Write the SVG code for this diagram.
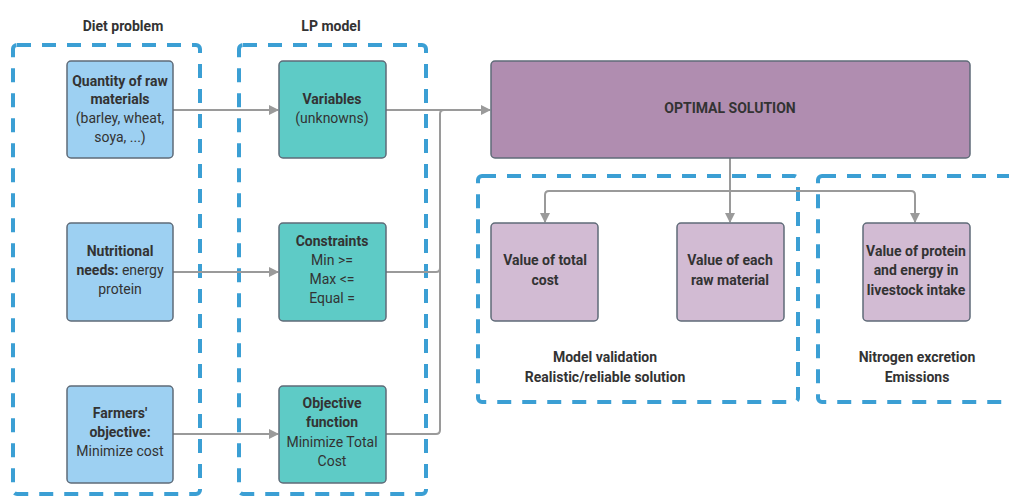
<svg xmlns="http://www.w3.org/2000/svg" width="1009" height="497" viewBox="0 0 1009 497">
<style>
text{font-family:Roboto,"Liberation Sans",sans-serif;font-size:14px;fill:#333;text-anchor:middle;dominant-baseline:central}
.b{font-weight:bold}
.cont{fill:none;stroke:#3b9fd4;stroke-width:4;stroke-dasharray:14 11}
.n{stroke:#5f6b78;stroke-width:1.5}
.blue{fill:#9dd0f2}
.teal{fill:#5ecbc6}
.purple{fill:#b08db0}
.lilac{fill:#d2bbd3}
.e{fill:none;stroke:#9a9a9a;stroke-width:2}
</style>
<defs>
<marker id="ah" markerWidth="10" markerHeight="10" refX="9" refY="5" orient="auto" markerUnits="userSpaceOnUse">
<path d="M0,0 L10,5 L0,10 Z" fill="#9a9a9a"/>
</marker>
</defs>
<g id="containers">
<rect class="cont" x="13" y="45" width="187" height="449" rx="4"/>
<rect class="cont" x="239" y="45" width="187" height="449" rx="4"/>
<rect class="cont" x="478" y="176" width="320" height="226" rx="4"/>
<rect class="cont" x="818" y="176" width="220" height="226" rx="4"/>
</g>
<g id="headers">
<text class="b" x="123" y="26">Diet problem</text>
<text class="b" x="331" y="26">LP model</text>
</g>
<g id="connectors">
<path class="e" d="M173,110 H278" marker-end="url(#ah)"/>
<path class="e" d="M173,272 H278" marker-end="url(#ah)"/>
<path class="e" d="M173,434 H278" marker-end="url(#ah)"/>
<path class="e" d="M386,110 H490" marker-end="url(#ah)"/>
<path class="e" d="M386,272 H436 Q440,272 440,268 V114 Q440,110 444,110"/>
<path class="e" d="M386,434 H436 Q440,434 440,430 V114"/>
<path class="e" d="M730,158 V191"/>
<path class="e" d="M545,222 V195 Q545,191 549,191 H911 Q915,191 915,195 V222" marker-end="url(#ah)"/>
<path class="e" d="M545,195 V222" marker-end="url(#ah)"/>
<path class="e" d="M730,191 V222" marker-end="url(#ah)"/>
</g>
<g id="quantity">
<rect class="n blue" x="67" y="61" width="106" height="97" rx="4"/>
<text class="b" x="120" y="81">Quantity of raw</text>
<text class="b" x="120" y="99">materials</text>
<text x="120" y="118">(barley, wheat,</text>
<text x="120" y="137">soya, ...)</text>
</g>
<g id="nutritional">
<rect class="n blue" x="67" y="223" width="106" height="98" rx="4"/>
<text class="b" x="120" y="251">Nutritional</text>
<text x="120" y="270"><tspan class="b">needs:</tspan> energy</text>
<text x="120" y="289">protein</text>
</g>
<g id="farmers">
<rect class="n blue" x="67" y="386" width="106" height="97" rx="4"/>
<text class="b" x="120" y="413">Farmers'</text>
<text class="b" x="120" y="432">objective:</text>
<text x="120" y="451">Minimize cost</text>
</g>
<g id="variables">
<rect class="n teal" x="279" y="61" width="107" height="97" rx="4"/>
<text class="b" x="332" y="99">Variables</text>
<text x="332" y="118">(unknowns)</text>
</g>
<g id="constraints">
<rect class="n teal" x="279" y="223" width="107" height="98" rx="4"/>
<text class="b" x="332" y="241">Constraints</text>
<text x="332" y="260">Min &gt;=</text>
<text x="332" y="279">Max &lt;=</text>
<text x="332" y="298">Equal =</text>
</g>
<g id="objective">
<rect class="n teal" x="279" y="386" width="107" height="97" rx="4"/>
<text class="b" x="332" y="403">Objective</text>
<text class="b" x="332" y="422">function</text>
<text x="332" y="442">Minimize Total</text>
<text x="332" y="461">Cost</text>
</g>
<g id="optimal">
<rect class="n purple" x="491" y="61" width="479" height="97" rx="4"/>
<text class="b" x="730" y="108">OPTIMAL SOLUTION</text>
</g>
<g id="totalcost">
<rect class="n lilac" x="491" y="223" width="107" height="98" rx="4"/>
<text class="b" x="545" y="260">Value of total</text>
<text class="b" x="545" y="280">cost</text>
</g>
<g id="eachraw">
<rect class="n lilac" x="677" y="223" width="107" height="98" rx="4"/>
<text class="b" x="730" y="260">Value of each</text>
<text class="b" x="730" y="280">raw material</text>
</g>
<g id="protein">
<rect class="n lilac" x="863" y="223" width="107" height="98" rx="4"/>
<text class="b" x="916" y="251">Value of protein</text>
<text class="b" x="916" y="270">and energy in</text>
<text class="b" x="916" y="290">livestock intake</text>
</g>
<g id="labels">
<text class="b" x="605" y="357">Model validation</text>
<text class="b" x="605" y="377">Realistic/reliable solution</text>
<text class="b" x="917" y="357">Nitrogen excretion</text>
<text class="b" x="917" y="377">Emissions</text>
</g>
</svg>
